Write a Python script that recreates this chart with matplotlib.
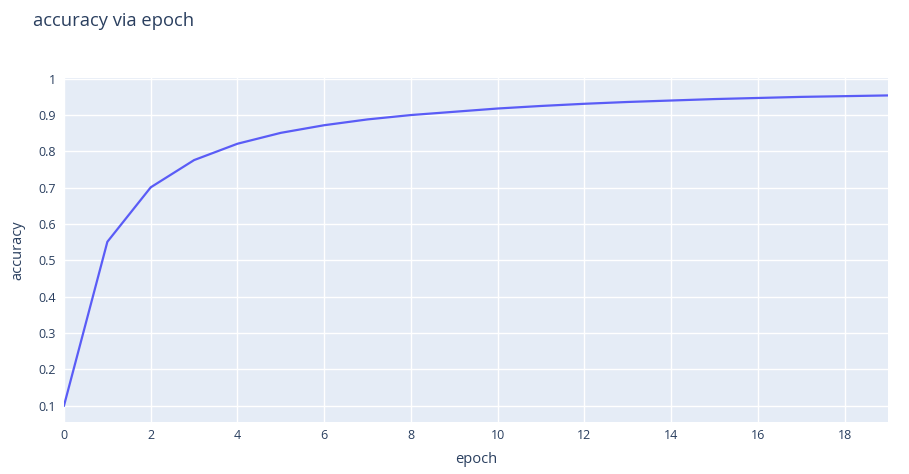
import matplotlib
matplotlib.use("Agg")
import matplotlib.pyplot as plt

plt.rcParams['font.family'] = ['Open Sans', 'DejaVu Sans']

# values
epoch = list(range(20))
accuracy = [0.100, 0.551, 0.701, 0.776, 0.821, 0.851, 0.872, 0.888, 0.900, 0.909,
            0.918, 0.925, 0.931, 0.936, 0.940, 0.944, 0.947, 0.950, 0.952, 0.954]
xticks = [0, 2, 4, 6, 8, 10, 12, 14, 16, 18]
yticks = [0.1, 0.2, 0.3, 0.4, 0.5, 0.6, 0.7, 0.8, 0.9, 1.0]
ytick_labels = ['0.1', '0.2', '0.3', '0.4', '0.5', '0.6', '0.7', '0.8', '0.9', '1']

txt = '#2a3f5f'
W, H = 909, 474

fig = plt.figure(figsize=(W/100, H/100), dpi=100)
ax = fig.add_axes([64/W, 1 - 422.3/H, (888 - 64)/W, (422.3 - 78)/H])
ax.set_facecolor('#e5ecf6')

ax.plot(epoch, accuracy, color='#5a5cf6', linewidth=1.6, solid_joinstyle='round', zorder=3)

ax.set_xlim(0, 19)
ax.set_ylim(0.054, 1.002)
ax.set_xticks(xticks)
ax.set_yticks(yticks)
ax.set_yticklabels(ytick_labels)
ax.grid(True, color='white', linewidth=1.0)
ax.set_axisbelow(True)
for s in ax.spines.values():
    s.set_visible(False)
ax.tick_params(length=0, labelsize=9, labelcolor=txt)
ax.tick_params(axis='y', pad=6)
ax.tick_params(axis='x', pad=5)

ax.set_xlabel('epoch', fontsize=10.5, color=txt, labelpad=7)
ax.set_ylabel('accuracy', fontsize=10.5, color=txt, labelpad=9)

fig.text(33/W, 1 - 21/H, 'accuracy via epoch', fontsize=13.2, color=txt, va='center', ha='left')

fig.savefig('out.png', dpi=100)
